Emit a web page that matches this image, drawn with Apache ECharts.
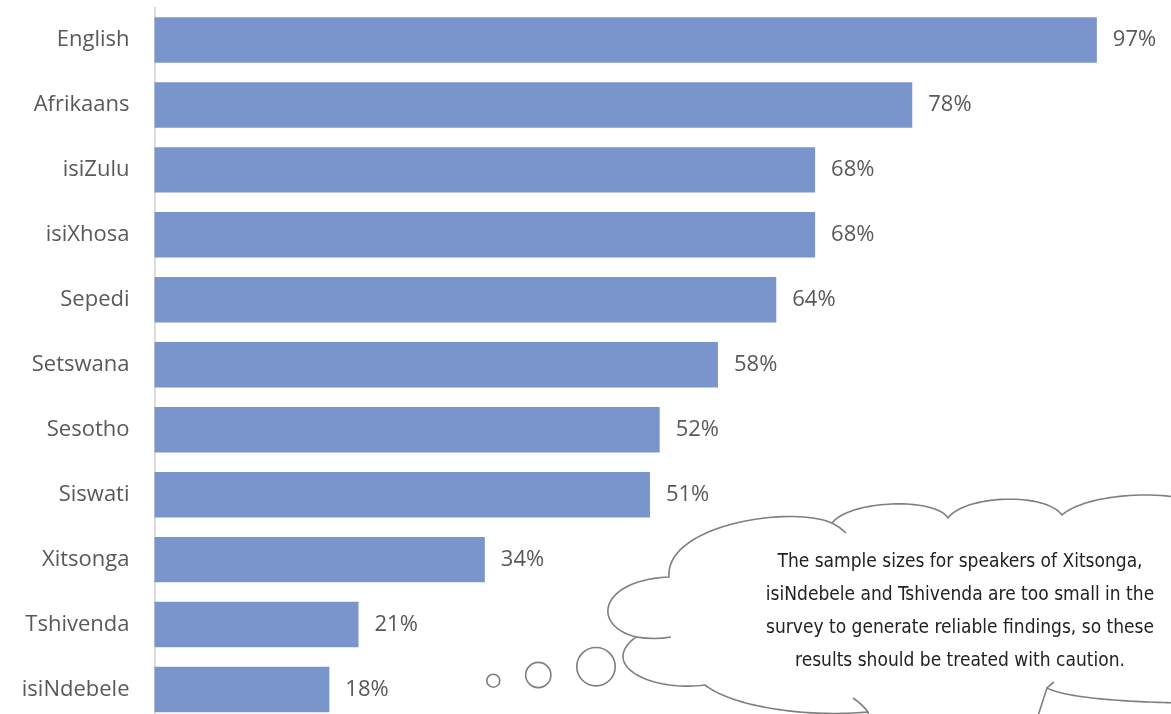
<!DOCTYPE html>
<html>
<head>
<meta charset="utf-8">
<script src="https://cdn.jsdelivr.net/npm/echarts@6/dist/echarts.min.js"></script>
<style>html,body{margin:0;padding:0;background:#fff;}#c{width:1171px;height:714px;}</style>
</head>
<body>
<div id="c"></div>
<script>
var categories = ['English','Afrikaans','isiZulu','isiXhosa','Sepedi','Setswana','Sesotho','Siswati','Xitsonga','Tshivenda','isiNdebele'];
var values = [97,78,68,68,64,58,52,51,34,21,18];
var noteLines = [
  'The sample sizes for speakers of Xitsonga,',
  'isiNdebele and Tshivenda are too small in the',
  'survey to generate reliable findings, so these',
  'results should be treated with caution.'
];

var chart = echarts.init(document.getElementById('c'), null, {renderer:'canvas'});
var stroke = '#7f7f7f';

// cloud outline segments: ['C', cp1, cp2, end] or ['L', end]
var cloudStart = [636,637];
var cloudSegs = [
  ['C',[590,625],[600,580],[669,577]],
  ['C',[665,525],[790,505],[832,523]],
  ['C',[850,500],[935,497],[948,518]],
  ['C',[965,495],[1045,492],[1062,515]],
  ['C',[1090,490],[1200,485],[1230,520]],
  ['L',[1240,520]],['L',[1240,703]],['L',[1200,703]],
  ['C',[1150,703],[1070,700],[1047,688]],
  ['L',[1035,725]],['L',[870,725]],['L',[868,712]],
  ['C',[800,718],[730,705],[705,685]],
  ['C',[650,692],[598,665],[636,637]]
];
function sampleCloud(){
  var pts=[cloudStart.slice()], p=cloudStart;
  cloudSegs.forEach(function(s){
    if(s[0]==='L'){ pts.push(s[1].slice()); p=s[1]; return; }
    var a=p,b=s[1],c=s[2],d=s[3];
    for(var i=1;i<=40;i++){
      var t=i/40,u=1-t;
      pts.push([u*u*u*a[0]+3*u*u*t*b[0]+3*u*t*t*c[0]+t*t*t*d[0],
                u*u*u*a[1]+3*u*u*t*b[1]+3*u*t*t*c[1]+t*t*t*d[1]]);
    }
    p=d;
  });
  return pts;
}
var tails = [
  [[832,523],[840,527],[846,533]],
  [[636,637],[655,640],[671,637]],
  [[1047,688],[1050,685],[1054,682]],
  [[868,712],[862,704],[853,698]]
];
var graphics = [
  {type:'circle', shape:{cx:493.3, cy:680.7, r:6.5}, style:{fill:'#fff', stroke:stroke, lineWidth:1.6}, z:10},
  {type:'circle', shape:{cx:538.3, cy:675, r:12.6}, style:{fill:'#fff', stroke:stroke, lineWidth:1.6}, z:10},
  {type:'circle', shape:{cx:596, cy:666.7, r:19.2}, style:{fill:'#fff', stroke:stroke, lineWidth:1.6}, z:10},
  {type:'polygon', shape:{points:sampleCloud()}, style:{fill:'#fff', stroke:stroke, lineWidth:1.6}, z:10}
];
tails.forEach(function(t){
  graphics.push({type:'bezierCurve', shape:{x1:t[0][0],y1:t[0][1],cpx1:t[1][0],cpy1:t[1][1],x2:t[2][0],y2:t[2][1]},
    style:{fill:null, stroke:stroke, lineWidth:1.6}, z:11});
});
graphics.push({
  type:'text', x:960, y:546, z:12,
  style:{
    text: noteLines.join('\n'),
    textAlign:'center',
    font:'19px "Liberation Sans Narrow", "DejaVu Sans Condensed", "Roboto", sans-serif',
    lineHeight:33,
    fill:'#222'
  }
});

chart.setOption({
  animation:false,
  grid:{left:154.5, right:45, top:7.5, height:714.5, containLabel:false, outerBoundsMode:'none'},
  xAxis:{type:'value', min:0, max:100, show:false},
  yAxis:{
    type:'category', data:categories, inverse:true,
    axisLine:{show:true, lineStyle:{color:'#d0d0d0', width:1.5}},
    axisTick:{show:false},
    axisLabel:{color:'#595959', fontSize:22, fontFamily:'"Open Sans", sans-serif', margin:25}
  },
  series:[{
    type:'bar', data:values, barCategoryGap:'30%',
    itemStyle:{color:'#7a95cc'},
    label:{show:true, position:'right', distance:16, formatter:'{c}%', color:'#595959', fontSize:22, fontFamily:'"Open Sans", sans-serif'}
  }],
  graphic: graphics
});
</script>
</body>
</html>
